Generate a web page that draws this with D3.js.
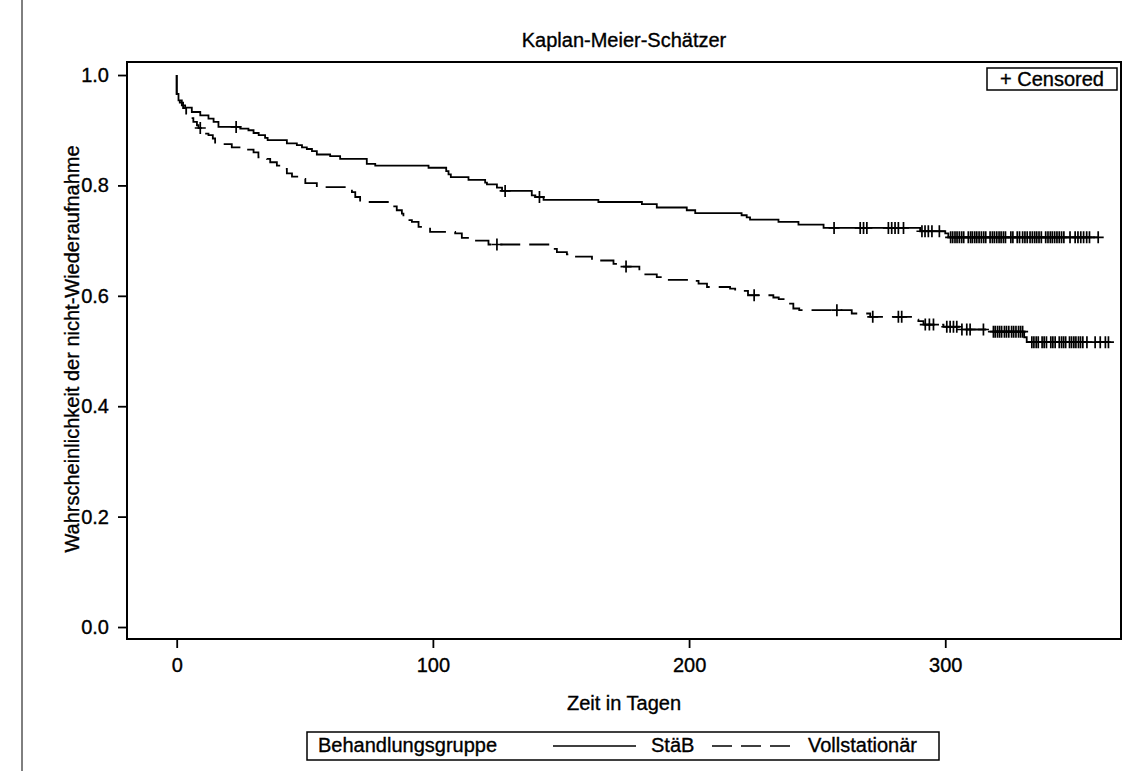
<!DOCTYPE html>
<html>
<head>
<meta charset="utf-8">
<script src="https://cdn.jsdelivr.net/npm/d3@7"></script>
<style>
body { margin: 0; background: #fff; }
svg text { font-family: "Liberation Sans", Arial, sans-serif; fill: #000; stroke: #000; stroke-width: 0.35px; }
</style>
</head>
<body>
<svg id="chart" width="1129" height="771"></svg>
<script>
// Kaplan-Meier curves, values
var groups = [ 'StäB', 'Vollstationär' ];

var stabTimes = [ 0, 0.7, 2, 3.3, 5.9, 9.2, 12.4, 14.4, 16.3, 24.8, 28, 30, 32, 34.5, 35.5, 43, 46.9, 48.9, 50.8, 52.8,
	54.7, 59.9, 63.8, 74.2, 77.5, 98.3, 105.2, 106.1, 107, 113.9, 120.4, 121.1, 125, 127, 138.6, 140, 143.2, 164.6,
	181.6, 187.4, 199.1, 202.4, 220.5, 222.5, 223.8, 234.9, 242.7, 252.5, 290.2, 300, 301.2 ];
var stabSurv = [ 0.966, 0.954, 0.945, 0.941, 0.933, 0.927, 0.921, 0.915, 0.906, 0.903, 0.900, 0.895, 0.891, 0.886, 0.882,
	0.876, 0.873, 0.869, 0.866, 0.862, 0.856, 0.853, 0.848, 0.839, 0.836, 0.832, 0.826, 0.820, 0.815, 0.810, 0.805, 0.802,
	0.796, 0.790, 0.782, 0.779, 0.774, 0.770, 0.766, 0.760, 0.755, 0.750, 0.746, 0.742, 0.738, 0.734, 0.729, 0.723, 0.717,
	0.713, 0.706 ];
var stabCensored = [ 23.2, 128.2, 141.6, 256.6, 266.8, 268.1, 269.4, 277.8, 279.1, 280.4, 281.7, 283.7, 290.9, 292.1,
	293.4, 294.8, 297.7, 302.1, 302.9, 303.8, 304.6, 305.5, 306.4, 307.2, 309.0, 309.9, 310.6, 311.5, 312.3, 313.2, 314.1,
	315.0, 315.8, 317.5, 318.4, 319.2, 320.1, 321.0, 321.8, 322.7, 323.5, 325.6, 326.4, 328.1, 329.0, 330.2, 331.1,
	332.0, 333.1, 334.0, 334.9, 335.7, 336.6, 337.5, 339.2, 340.1, 341.0, 341.8, 342.7, 343.6, 344.5, 345.4, 346.3,
	348.7, 350.7, 351.8, 352.9, 354.0, 355.2, 356.3, 359.7 ];

var vollTimes = [ 0, 1.2, 2.5, 3.7, 5, 6.5, 7.9, 8.5, 9.8, 11.1, 12.4, 14.1, 15, 21.5, 26.1, 30, 31.9, 35.2, 36.5, 39.1,
	41.7, 43, 45, 48.2, 50.2, 54.7, 68.4, 69.7, 71.6, 84, 85.9, 87.9, 88.5, 91.8, 94.4, 98.9, 108.7, 111.3, 116, 121.7,
	146.4, 148.4, 152.3, 155.5, 162.1, 164, 170.5, 172.5, 180.6, 187.4, 189.4, 201, 203.7, 207, 216, 218, 223, 232.9,
	235, 236.9, 240.7, 243, 263.5, 270.7, 287.6, 289.5, 291.5, 299.3, 305.8, 316.9, 330.8, 331.8 ];
var vollSurv = [ 0.96, 0.95, 0.94, 0.93, 0.922, 0.915, 0.909, 0.904, 0.900, 0.894, 0.891, 0.885, 0.875, 0.869, 0.865,
	0.860, 0.851, 0.848, 0.842, 0.836, 0.830, 0.822, 0.816, 0.812, 0.804, 0.797, 0.788, 0.779, 0.770, 0.762, 0.755, 0.749,
	0.737, 0.734, 0.725, 0.716, 0.713, 0.705, 0.700, 0.693, 0.685, 0.679, 0.675, 0.671, 0.667, 0.664, 0.658, 0.653, 0.639,
	0.634, 0.629, 0.627, 0.622, 0.616, 0.613, 0.609, 0.601, 0.597, 0.594, 0.586, 0.577, 0.574, 0.568, 0.562, 0.557,
	0.554, 0.548, 0.544, 0.539, 0.535, 0.525, 0.516 ];
var vollCensored = [ 9.2, 125, 175.4, 225.4, 257.7, 271.7, 281.7, 283, 292.2, 293.8, 295.4, 300.6, 301.9, 303.2, 304.5,
	306.5, 308.4, 309.7, 314.9, 318.8, 319.5, 320.4, 321.2, 322.0, 323.1, 323.9, 324.8, 325.9, 326.7, 327.6, 328.6,
	329.4, 330.2, 333.8, 334.6, 335.5, 336.3, 337.8, 338.6, 339.5, 341.2, 342.0, 342.9, 344.5, 345.4, 346.2, 347.0,
	348.5, 349.3, 350.2, 351.0, 352.0, 352.8, 353.7, 355.3, 358.5, 360.5, 362.5, 363.7 ];

var xTicks = [ 0, 100, 200, 300 ];
var yTicks = [ 0, 0.2, 0.4, 0.6, 0.8, 1.0 ];

var plot = { left: 127, top: 62, right: 1121, bottom: 639 };

var x = d3.scaleLinear().domain( [ -19.4, 368.6 ] ).range( [ plot.left, plot.right ] );
var y = d3.scaleLinear().domain( [ -0.0217, 1.0236 ] ).range( [ plot.bottom, plot.top ] );

var svg = d3.select( '#chart' );

svg.append( 'rect' ).attr( 'width', 1129 ).attr( 'height', 771 ).attr( 'fill', '#fff' );

// page edge line at the left
svg.append( 'line' )
	.attr( 'x1', 22 ).attr( 'x2', 22 ).attr( 'y1', 0 ).attr( 'y2', 771 )
	.attr( 'stroke', '#000' ).attr( 'stroke-width', 1 );

function survAt( times, surv, t ) {
	var s = 1;
	for ( var i = 0; i < times.length; i ++ ) {
		if ( times[ i ] <= t ) s = surv[ i ];
	}
	return s;
}

function stepPoints( times, surv, censored ) {
	var pts = [ [ 0, 1 ] ];
	times.forEach( function( t, i ) { pts.push( [ t, surv[ i ] ] ); } );
	var end = Math.max( d3.max( times ), d3.max( censored ) );
	pts.push( [ end, surv[ surv.length - 1 ] ] );
	return pts;
}

// axes
var xAxis = d3.axisBottom( x ).tickValues( xTicks ).tickFormat( d3.format( 'd' ) ).tickSize( 8 ).tickPadding( 10 );
var gx = svg.append( 'g' ).attr( 'transform', 'translate(0,' + ( plot.bottom + 1 ) + ')' ).call( xAxis );

var yAxis = d3.axisLeft( y ).tickValues( yTicks ).tickFormat( d3.format( '.1f' ) ).tickSize( 9 ).tickPadding( 9 );
var gy = svg.append( 'g' ).attr( 'transform', 'translate(' + plot.left + ',0)' ).call( yAxis );

[ gx, gy ].forEach( function( g ) {
	g.select( '.domain' ).remove();
	g.selectAll( 'line' ).attr( 'stroke', '#000' ).attr( 'stroke-width', 1.8 );
	g.selectAll( 'text' ).style( 'font-size', '20px' ).attr( 'fill', '#000' );
} );

// frame
svg.append( 'rect' )
	.attr( 'x', plot.left ).attr( 'y', plot.top )
	.attr( 'width', plot.right - plot.left ).attr( 'height', plot.bottom - plot.top )
	.attr( 'fill', 'none' ).attr( 'stroke', '#000' ).attr( 'stroke-width', 2 );

// curves
var line = d3.line()
	.x( function( d ) { return x( d[ 0 ] ); } )
	.y( function( d ) { return y( d[ 1 ] ); } )
	.curve( d3.curveStepAfter );

var series = [
	{ name: groups[ 0 ], times: stabTimes, surv: stabSurv, cens: stabCensored, dash: null },
	{ name: groups[ 1 ], times: vollTimes, surv: vollSurv, cens: vollCensored, dash: '20,9' }
];

series.forEach( function( s ) {
	svg.append( 'path' )
		.attr( 'd', line( stepPoints( s.times, s.surv, s.cens ) ) )
		.attr( 'fill', 'none' )
		.attr( 'stroke', '#000' )
		.attr( 'stroke-width', 1.8 )
		.attr( 'stroke-dasharray', s.dash );

	svg.append( 'g' ).selectAll( 'path' ).data( s.cens )
		.enter().append( 'path' )
		.attr( 'd', function( c ) {
			var cx = x( c ), cy = y( survAt( s.times, s.surv, c ) );
			return 'M' + ( cx - 5.5 ) + ',' + cy + 'h11M' + cx + ',' + ( cy - 6 ) + 'v12';
		} )
		.attr( 'fill', 'none' )
		.attr( 'stroke', '#000' )
		.attr( 'stroke-width', 1.7 );
} );

// texts
var midX = ( plot.left + plot.right ) / 2;

svg.append( 'text' )
	.attr( 'x', midX ).attr( 'y', 47 )
	.attr( 'text-anchor', 'middle' )
	.style( 'font-size', '20px' )
	.text( 'Kaplan-Meier-Schätzer' );

svg.append( 'text' )
	.attr( 'x', midX ).attr( 'y', 710 )
	.attr( 'text-anchor', 'middle' )
	.style( 'font-size', '20px' )
	.text( 'Zeit in Tagen' );

svg.append( 'text' )
	.attr( 'transform', 'translate(79,349) rotate(-90)' )
	.attr( 'text-anchor', 'middle' )
	.style( 'font-size', '20px' )
	.text( 'Wahrscheinlichkeit der nicht-Wiederaufnahme' );

// censored legend
svg.append( 'rect' )
	.attr( 'x', 987 ).attr( 'y', 68 ).attr( 'width', 130 ).attr( 'height', 22 )
	.attr( 'fill', '#fff' ).attr( 'stroke', '#000' ).attr( 'stroke-width', 1.5 );
svg.append( 'text' )
	.attr( 'x', 1052 ).attr( 'y', 86 )
	.attr( 'text-anchor', 'middle' )
	.style( 'font-size', '20px' )
	.text( '+ Censored' );

// group legend
var lg = svg.append( 'g' );
lg.append( 'rect' )
	.attr( 'x', 307 ).attr( 'y', 732 ).attr( 'width', 632 ).attr( 'height', 28 )
	.attr( 'fill', '#fff' ).attr( 'stroke', '#000' ).attr( 'stroke-width', 1.5 );
lg.append( 'text' ).attr( 'x', 318 ).attr( 'y', 752 ).style( 'font-size', '20px' ).text( 'Behandlungsgruppe' );

var legendItems = [
	{ x1: 553, x2: 636, tx: 651, dash: null },
	{ x1: 712, x2: 790, tx: 808, dash: '20,9' }
];
legendItems.forEach( function( d, i ) {
	lg.append( 'line' )
		.attr( 'x1', d.x1 ).attr( 'x2', d.x2 ).attr( 'y1', 746 ).attr( 'y2', 746 )
		.attr( 'stroke', '#000' ).attr( 'stroke-width', 1.6 )
		.attr( 'stroke-dasharray', d.dash );
	lg.append( 'text' ).attr( 'x', d.tx ).attr( 'y', 752 ).style( 'font-size', '20px' ).text( groups[ i ] );
} );
</script>
</body>
</html>
